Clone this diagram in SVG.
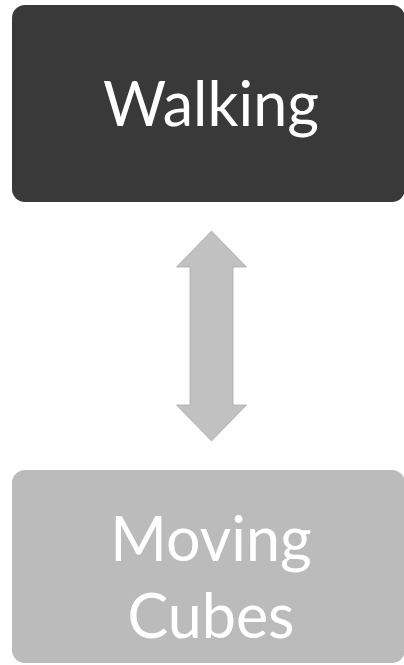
<svg xmlns="http://www.w3.org/2000/svg" width="404" height="665" viewBox="0 0 404 665">
<style>
.lbl{font-family:Lato,"Open Sans","Liberation Sans",sans-serif;font-size:61px;font-weight:400;fill:#ffffff;text-anchor:middle}
</style>
<rect width="404" height="665" fill="#ffffff"/>
<g id="walking">
<rect x="12" y="5" width="393" height="197" rx="13" ry="13" fill="#393939"/>
<text class="lbl" x="211" y="126">Walking</text>
</g>
<g id="connectors">
<path d="M211.5,231 L246.5,267 L233,267 L233,405 L246.5,405 L211.5,441 L176.5,405 L190,405 L190,267 L176.5,267 Z" fill="#c1c1c1" stroke="#a9a9a9" stroke-width="0.8"/>
</g>
<g id="moving-cubes">
<rect x="12" y="470" width="393" height="193" rx="13" ry="13" fill="#bbbbbb"/>
<text class="lbl" x="211" y="561">Moving</text>
<text class="lbl" x="211" y="638">Cubes</text>
</g>
</svg>
